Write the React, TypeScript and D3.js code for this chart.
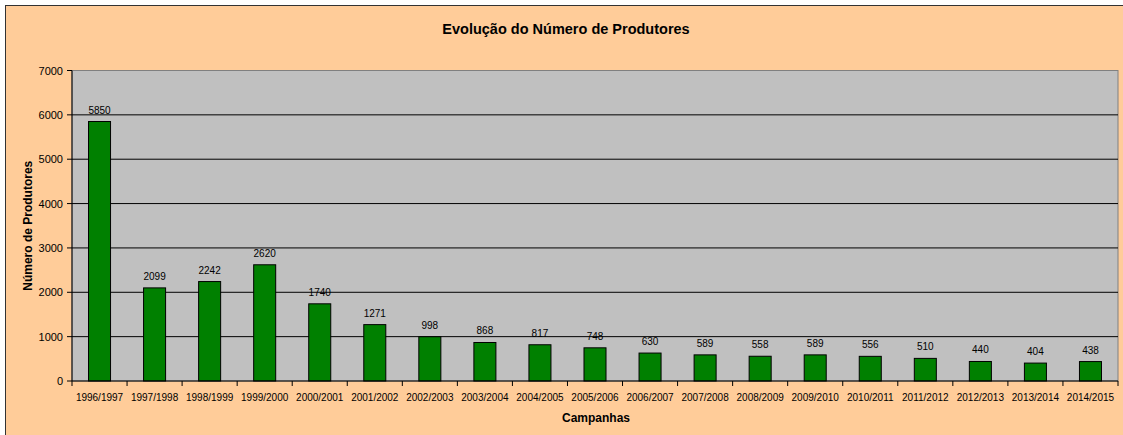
import React from "react";
import * as d3 from "d3";

const categories = ["1996/1997","1997/1998","1998/1999","1999/2000","2000/2001","2001/2002","2002/2003","2003/2004","2004/2005","2005/2006","2006/2007","2007/2008","2008/2009","2009/2010","2010/2011","2011/2012","2012/2013","2013/2014","2014/2015"];
const values = [5850,2099,2242,2620,1740,1271,998,868,817,748,630,589,558,589,556,510,440,404,438];
const yTicks = [0,1000,2000,3000,4000,5000,6000,7000];

const W = 1123, H = 435;
const L = 72, R = 1118, T = 70.5, B = 381;

export default function App() {
  const x = d3.scaleBand<string>().domain(categories).range([L, R]).paddingInner(0.6).paddingOuter(0.3);
  const xb = d3.scaleBand<string>().domain(categories).range([L, R]).padding(0);
  const y = d3.scaleLinear().domain([0, 7000]).range([B, T]);
  const font = "'Liberation Sans', Arial, sans-serif";
  return (
    <svg width={W} height={H} style={{ position: "absolute", left: 0, top: 0 }} fontFamily={font}>
      <rect x={5.5} y={5.5} width={W + 10} height={H + 10} fill="#FFCC99" stroke="#333" strokeWidth={1} />
      <text x={566} y={34} textAnchor="middle" fontSize={14.5} fontWeight="bold" fill="#000">Evolução do Número de Produtores</text>
      <rect x={L} y={T} width={R - L} height={B - T} fill="#C0C0C0" stroke="#808080" strokeWidth={1} />
      {yTicks.map((t) => (
        <g key={t}>
          {t > 0 && t < 7000 && <line x1={L} x2={R} y1={y(t)} y2={y(t)} stroke="#000" strokeWidth={1} />}
          <line x1={L - 5} x2={L} y1={y(t)} y2={y(t)} stroke="#000" />
          <text x={63} y={y(t) + 4} textAnchor="end" fontSize={11} fill="#000">{t}</text>
        </g>
      ))}
      <line x1={L} x2={L} y1={T} y2={B} stroke="#000" />
      {categories.map((c, i) => (
        <g key={c}>
          <rect x={x(c)!} y={y(values[i])} width={x.bandwidth()} height={B - y(values[i])} fill="#008000" stroke="#000" strokeWidth={1} />
          <text x={x(c)! + x.bandwidth() / 2} y={y(values[i]) - 8} textAnchor="middle" fontSize={10} fill="#000">{values[i]}</text>
          <text x={xb(c)! + xb.bandwidth() / 2} y={400.5} textAnchor="middle" fontSize={10} fill="#000">{c}</text>
        </g>
      ))}
      {categories.concat([""]).map((c, i) => {
        const xx = L + i * xb.step();
        return <line key={"t" + i} x1={xx} x2={xx} y1={B} y2={B + 5} stroke="#000" />;
      })}
      <line x1={L} x2={R} y1={B} y2={B} stroke="#000" />
      <text x={596} y={422} textAnchor="middle" fontSize={12} fontWeight="bold" fill="#000">Campanhas</text>
      <text transform={`translate(32,${(T + B) / 2}) rotate(-90)`} textAnchor="middle" fontSize={12} fontWeight="bold" fill="#000">Número de Produtores</text>
    </svg>
  );
}
